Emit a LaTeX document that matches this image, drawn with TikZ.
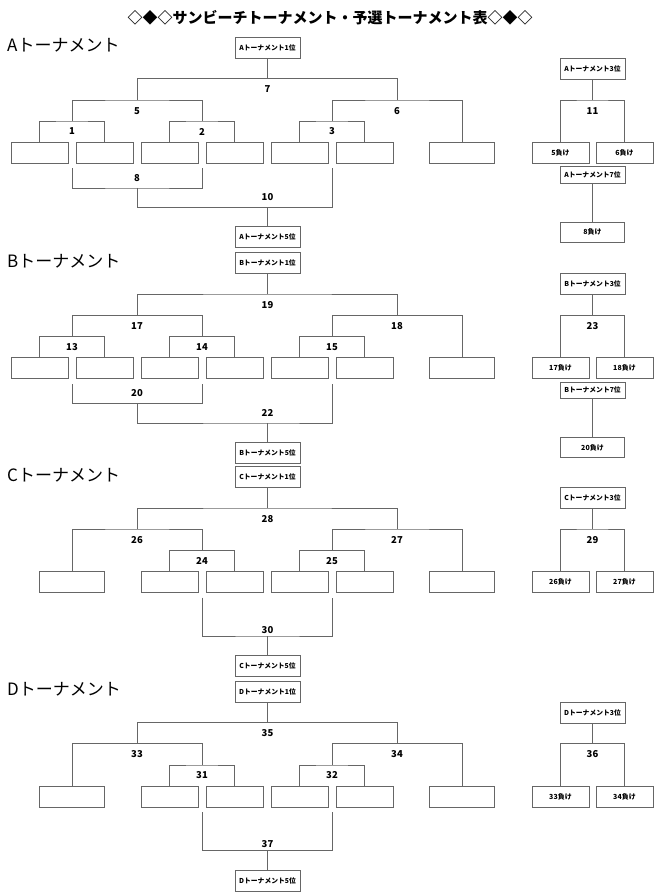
\documentclass[tikz,border=0pt]{standalone}
\usepackage{fontspec}
\setmainfont{Noto Sans CJK JP}
\usepackage{tikz}

\tikzset{
  link/.style={draw=black!60, line width=0.7pt},
  rank/.style={link, minimum width=65pt, minimum height=21pt, inner sep=0pt, font=\fontsize{6.8}{7}\selectfont\bfseries},
  slot/.style={link, minimum width=57pt, minimum height=21pt, inner sep=0pt},
  wideslot/.style={slot, minimum width=65pt},
  lose/.style={slot, font=\fontsize{7}{8}\selectfont\bfseries},
  num/.style={inner sep=0pt, font=\fontsize{9.5}{10}\selectfont\bfseries},
  head/.style={anchor=west, inner sep=0pt, font=\fontsize{17}{18}\selectfont},
}

\begin{document}
\begin{tikzpicture}[x=1pt,y=-1pt]
   \useasboundingbox (0,0) rectangle (660,896);
   \node[font=\fontsize{15}{16}\selectfont\bfseries] (title) at (330,18) {◇◆◇サンビーチトーナメント・予選トーナメント表◇◆◇};

   % A
   \begin{scope}[yshift=-37pt]
   \node[head] (headA) at (7,8.5) {Aトーナメント};
   \node[rank] (a1st) at (267.5,10.5) {Aトーナメント1位};
   \coordinate (j7) at (267.5,41.5);
   \coordinate (j5) at (137,63);
   \coordinate (j6) at (397,63);
   \coordinate (j1) at (72,84);
   \coordinate (j2) at (202,84);
   \coordinate (j3) at (332,84);
   \node[slot] (pa1) at (39.5,115.5) {};
   \node[slot] (pa2) at (104.5,115.5) {};
   \node[slot] (pa3) at (169.5,115.5) {};
   \node[slot] (pa4) at (234.5,115.5) {};
   \node[slot] (pa5) at (299.5,115.5) {};
   \node[slot] (pa6) at (364.5,115.5) {};
   \node[wideslot] (pa7) at (462,115.5) {};
   \node[num] at (267.5,52.5) {7};
   \node[num] at (137,74) {5};
   \node[num] at (397,74) {6};
   \node[num] at (72,94.5) {1};
   \node[num] at (202,94.5) {2};
   \node[num] at (332,94.5) {3};
   \coordinate (u1) at (72,131.5);
   \coordinate (u2) at (202,131.5);
   \coordinate (u3) at (332,131.5);
   \coordinate (j8) at (137,151);
   \coordinate (j10) at (267.5,170.5);
   \node[num] at (137,141) {8};
   \node[num] at (267.5,160.5) {10};
   \node[rank] (a5th) at (267.5,200) {Aトーナメント5位};
   \draw[link] (a1st) -- (j7);
   \draw[link] (j5) |- (j7) -| (j6);
   \draw[link] (j1) |- (j5) -| (j2);
   \draw[link] (j3) |- (j6) -| (pa7.north);
   \draw[link] (pa1.north) |- (j1) -| (pa2.north);
   \draw[link] (pa3.north) |- (j2) -| (pa4.north);
   \draw[link] (pa5.north) |- (j3) -| (pa6.north);
   \draw[link] (u1) |- (j8) -| (u2);
   \draw[link] (j8) |- (j10) -| (u3);
   \draw[link] (j10) -- (a5th);
   \node[rank] (a3rd) at (592.5,31.75) {Aトーナメント3位};
   \coordinate (j11) at (592.5,63);
   \node[num] at (592.5,74) {11};
   \node[lose] (l5) at (560.5,115.5) {5負け};
   \node[lose] (l6) at (624.5,115.5) {6負け};
   \node[rank, minimum height=16.5pt] (a7th) at (592.5,137.75) {Aトーナメント7位};
   \node[lose, minimum width=64pt, minimum height=20pt] (l8) at (592.5,195) {8負け};
   \draw[link] (a3rd) -- (j11);
   \draw[link] (l5.north) |- (j11) -| (l6.north);
   \draw[link] (a7th) -- (l8);
   \end{scope}

   % B
   \begin{scope}[yshift=-252.5pt]
   \node[head] (headB) at (7,8.5) {Bトーナメント};
   \node[rank] (b1st) at (267.5,10.5) {Bトーナメント1位};
   \coordinate (j19) at (267.5,41.5);
   \coordinate (j17) at (137,63);
   \coordinate (j18) at (397,63);
   \coordinate (j13) at (72,84);
   \coordinate (j14) at (202,84);
   \coordinate (j15) at (332,84);
   \node[slot] (pb1) at (39.5,115.5) {};
   \node[slot] (pb2) at (104.5,115.5) {};
   \node[slot] (pb3) at (169.5,115.5) {};
   \node[slot] (pb4) at (234.5,115.5) {};
   \node[slot] (pb5) at (299.5,115.5) {};
   \node[slot] (pb6) at (364.5,115.5) {};
   \node[wideslot] (pb7) at (462,115.5) {};
   \node[num] at (267.5,52.5) {19};
   \node[num] at (137,74) {17};
   \node[num] at (397,74) {18};
   \node[num] at (72,94.5) {13};
   \node[num] at (202,94.5) {14};
   \node[num] at (332,94.5) {15};
   \coordinate (u13) at (72,131.5);
   \coordinate (u14) at (202,131.5);
   \coordinate (u15) at (332,131.5);
   \coordinate (j20) at (137,151);
   \coordinate (j22) at (267.5,170.5);
   \node[num] at (137,141) {20};
   \node[num] at (267.5,160.5) {22};
   \node[rank] (b5th) at (267.5,200) {Bトーナメント5位};
   \draw[link] (b1st) -- (j19);
   \draw[link] (j17) |- (j19) -| (j18);
   \draw[link] (j13) |- (j17) -| (j14);
   \draw[link] (j15) |- (j18) -| (pb7.north);
   \draw[link] (pb1.north) |- (j13) -| (pb2.north);
   \draw[link] (pb3.north) |- (j14) -| (pb4.north);
   \draw[link] (pb5.north) |- (j15) -| (pb6.north);
   \draw[link] (u13) |- (j20) -| (u14);
   \draw[link] (j20) |- (j22) -| (u15);
   \draw[link] (j22) -- (b5th);
   \node[rank] (b3rd) at (592.5,31.75) {Bトーナメント3位};
   \coordinate (j23) at (592.5,63);
   \node[num] at (592.5,74) {23};
   \node[lose] (l17) at (560.5,115.5) {17負け};
   \node[lose] (l18) at (624.5,115.5) {18負け};
   \node[rank, minimum height=16.5pt] (b7th) at (592.5,137.75) {Bトーナメント7位};
   \node[lose, minimum width=64pt, minimum height=20pt] (l20) at (592.5,195) {20負け};
   \draw[link] (b3rd) -- (j23);
   \draw[link] (l17.north) |- (j23) -| (l18.north);
   \draw[link] (b7th) -- (l20);
   \end{scope}

   % C
   \begin{scope}[yshift=-466.5pt]
   \node[head] (headC) at (7,8.5) {Cトーナメント};
   \node[rank] (c1st) at (267.5,10.5) {Cトーナメント1位};
   \coordinate (j28) at (267.5,41.5);
   \coordinate (j26) at (137,62.5);
   \coordinate (j27) at (397,62.5);
   \coordinate (j24) at (202,84);
   \coordinate (j25) at (332,84);
   \node[wideslot] (pc1) at (72,115.5) {};
   \node[slot] (pc2) at (169.5,115.5) {};
   \node[slot] (pc3) at (234.5,115.5) {};
   \node[slot] (pc4) at (299.5,115.5) {};
   \node[slot] (pc5) at (364.5,115.5) {};
   \node[wideslot] (pc6) at (462,115.5) {};
   \node[num] at (267.5,52.5) {28};
   \node[num] at (137,73.5) {26};
   \node[num] at (397,73.5) {27};
   \node[num] at (202,94.5) {24};
   \node[num] at (332,94.5) {25};
   \coordinate (u24) at (202,131);
   \coordinate (u25) at (332,131);
   \coordinate (j30) at (267.5,169.5);
   \node[num] at (267.5,163.5) {30};
   \node[rank] (c5th) at (267.5,199.5) {Cトーナメント5位};
   \draw[link] (c1st) -- (j28);
   \draw[link] (j26) |- (j28) -| (j27);
   \draw[link] (pc1.north) |- (j26) -| (j24);
   \draw[link] (j25) |- (j27) -| (pc6.north);
   \draw[link] (pc2.north) |- (j24) -| (pc3.north);
   \draw[link] (pc4.north) |- (j25) -| (pc5.north);
   \draw[link] (u24) |- (j30) -| (u25);
   \draw[link] (j30) -- (c5th);
   \node[rank] (c3rd) at (592.5,31.75) {Cトーナメント3位};
   \coordinate (j29) at (592.5,62.5);
   \node[num] at (592.5,73.5) {29};
   \node[lose] (l26) at (560.5,115.5) {26負け};
   \node[lose] (l27) at (624.5,115.5) {27負け};
   \draw[link] (c3rd) -- (j29);
   \draw[link] (l26.north) |- (j29) -| (l27.north);
   \end{scope}

   % D
   \begin{scope}[yshift=-681pt]
   \node[head] (headD) at (7,8.5) {Dトーナメント};
   \node[rank] (d1st) at (267.5,10.5) {Dトーナメント1位};
   \coordinate (j35) at (267.5,41.5);
   \coordinate (j33) at (137,62.5);
   \coordinate (j34) at (397,62.5);
   \coordinate (j31) at (202,84);
   \coordinate (j32) at (332,84);
   \node[wideslot] (pd1) at (72,115.5) {};
   \node[slot] (pd2) at (169.5,115.5) {};
   \node[slot] (pd3) at (234.5,115.5) {};
   \node[slot] (pd4) at (299.5,115.5) {};
   \node[slot] (pd5) at (364.5,115.5) {};
   \node[wideslot] (pd6) at (462,115.5) {};
   \node[num] at (267.5,52.5) {35};
   \node[num] at (137,73.5) {33};
   \node[num] at (397,73.5) {34};
   \node[num] at (202,94.5) {31};
   \node[num] at (332,94.5) {32};
   \coordinate (u31) at (202,131);
   \coordinate (u32) at (332,131);
   \coordinate (j37) at (267.5,169.5);
   \node[num] at (267.5,163.5) {37};
   \node[rank] (d5th) at (267.5,199.5) {Dトーナメント5位};
   \draw[link] (d1st) -- (j35);
   \draw[link] (j33) |- (j35) -| (j34);
   \draw[link] (pd1.north) |- (j33) -| (j31);
   \draw[link] (j32) |- (j34) -| (pd6.north);
   \draw[link] (pd2.north) |- (j31) -| (pd3.north);
   \draw[link] (pd4.north) |- (j32) -| (pd5.north);
   \draw[link] (u31) |- (j37) -| (u32);
   \draw[link] (j37) -- (d5th);
   \node[rank] (d3rd) at (592.5,31.75) {Dトーナメント3位};
   \coordinate (j36) at (592.5,62.5);
   \node[num] at (592.5,73.5) {36};
   \node[lose] (l33) at (560.5,115.5) {33負け};
   \node[lose] (l34) at (624.5,115.5) {34負け};
   \draw[link] (d3rd) -- (j36);
   \draw[link] (l33.north) |- (j36) -| (l34.north);
   \end{scope}
\end{tikzpicture}
\end{document}
